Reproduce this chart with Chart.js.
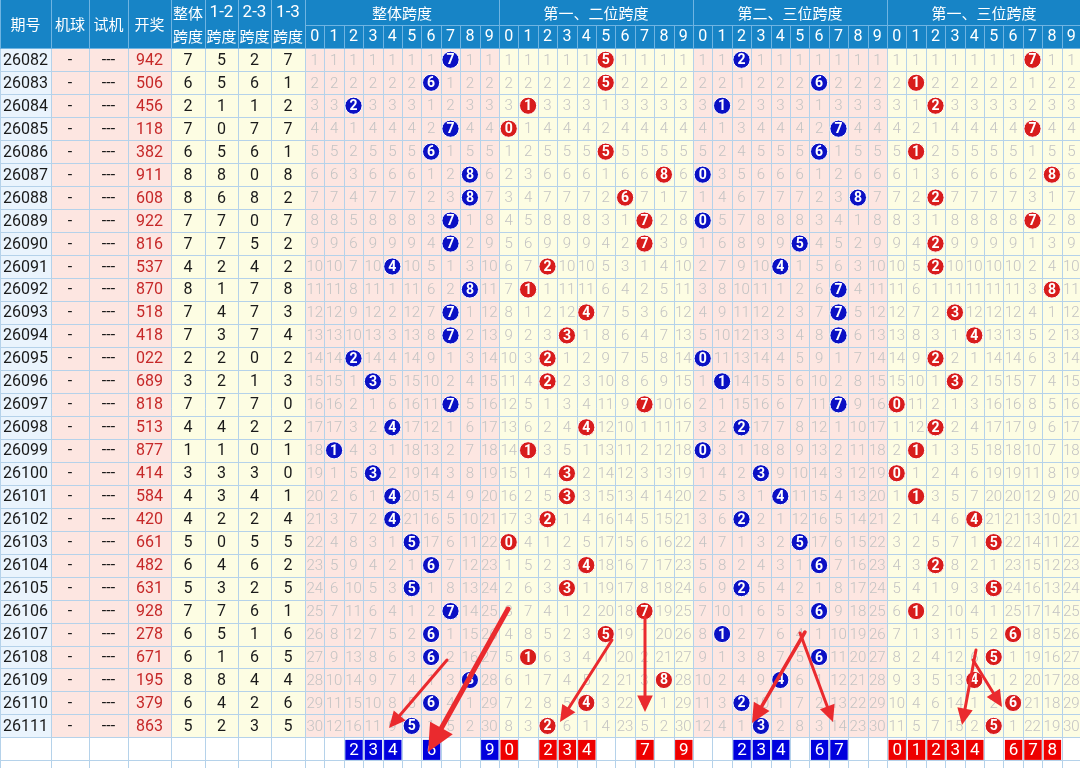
<!DOCTYPE html>
<html><head><meta charset="utf-8">
<script src="https://cdn.jsdelivr.net/npm/chart.js@4.4.1/dist/chart.umd.min.js"></script>
<style>html,body{margin:0;padding:0;background:#fff}canvas{display:block}</style>
</head><body>
<canvas id="c" width="1080" height="768"></canvas>
<script>
// ---------- DATA ----------
const periods = ['26082','26083','26084','26085','26086','26087','26088','26089','26090','26091','26092','26093','26094','26095','26096','26097','26098','26099','26100','26101','26102','26103','26104','26105','26106','26107','26108','26109','26110','26111'];
const machineBall = periods.map(() => '-');
const testDraw = periods.map(() => '---');
const draws = ['942','506','456','118','382','911','608','922','816','537','870','518','418','022','689','818','513','877','414','584','420','661','482','631','928','278','671','195','379','863'];
const spanAll = [7,6,2,7,6,8,8,7,7,4,8,7,7,2,3,7,4,1,3,4,4,5,6,5,7,6,6,8,6,5];
const span12  = [5,5,1,0,5,8,6,7,7,2,1,4,3,2,2,7,4,1,3,3,2,0,4,3,7,5,1,8,4,2];
const span23  = [2,6,1,7,6,0,8,0,5,4,7,7,7,0,1,7,2,0,3,4,2,5,6,2,6,1,6,4,2,3];
const span13  = [7,1,2,7,1,8,2,7,2,2,8,3,4,2,3,0,2,1,0,1,4,5,2,5,1,6,5,4,6,5];
const groupTitles = ['整体跨度','第一、二位跨度','第二、三位跨度','第一、三位跨度'];
const digitLabels = ['0','1','2','3','4','5','6','7','8','9'];
const picks1 = [2,3,4,6,9];
const picks2 = [0,2,3,4,7,9];
const picks3 = [2,3,4,6,7];
const picks4 = [0,1,2,3,4,6,7,8];
// annotation arrows in scale units [x1,y1,x2,y2,width]
const arrows = [
  [447,660,389,728,3],
  [508,609,428,752,5],
  [612,640,560,722,3],
  [645,617,645,712,3],
  [805,632,752,723,3.5],
  [800,633,833,722,3],
  [976,650,962,725,3],
  [973,660,1002,707,3]
];

// ---------- LAYOUT ----------
const leftEdges = [0,51,89,128,171,205,238,271,305];
const leftHeads = ['期号','机球','试机','开奖',['整体','跨度'],['1-2','跨度'],['2-3','跨度'],['1-3','跨度']];
const G0 = 305, GW = 194, CW = GW/10;
const H1 = 25, DT = 48.3, RH = 22.97;
const N = periods.length;
const BOT = DT + N*RH, BOTH = 23.5;
const groupHits = [spanAll, span12, span23, span13];
const groupPicks = [picks1, picks2, picks3, picks4];
const groupCircle = ['#0b10c4','#d81c1c','#0b10c4','#d81c1c'];
const groupBox = ['#0000dd','#ee0000','#0000dd','#ee0000'];
const groupBg = ['#fde6e1','#fdfde3','#fde6e1','#fdfde3'];
const colX = (g,c) => G0 + g*GW + (c+0.5)*CW;
const rowY = i => DT + (i+0.5)*RH;

const datasets = groupHits.map((arr,g) => ({
  label: groupTitles[g],
  data: arr.map((v,i) => ({x: colX(g,v), y: rowY(i), v})),
  pointRadius: 8.6, pointHoverRadius: 8.6,
  backgroundColor: groupCircle[g], borderColor: '#ffffff', borderWidth: 1,
  showLine: false, clip: false
}));

const NUMF = '"Roboto","Noto Sans",sans-serif';
const CJK = '"Noto Sans CJK SC","Noto Sans",sans-serif';

const tablePlugin = {
  id: 'table',
  beforeDatasetsDraw(chart) {
    const ctx = chart.ctx, xs = chart.scales.x, ys = chart.scales.y;
    const X = v => xs.getPixelForValue(v), Y = v => ys.getPixelForValue(v);
    ctx.save();
    ctx.fillStyle = '#fff'; ctx.fillRect(0,0,chart.width,chart.height);
    // column backgrounds
    const leftBg = ['#eaf4fd','#fde6e1','#fde6e1','#fde6e1','#fdfde3','#fdfde3','#fdfde3','#fdfde3'];
    for (let k=0;k<8;k++){ ctx.fillStyle=leftBg[k]; ctx.fillRect(X(leftEdges[k]),Y(DT),X(leftEdges[k+1])-X(leftEdges[k]),Y(BOT)-Y(DT)); }
    for (let g=0;g<4;g++){ ctx.fillStyle=groupBg[g]; ctx.fillRect(X(G0+g*GW),Y(DT),X(G0+(g+1)*GW)-X(G0+g*GW),Y(BOT)-Y(DT)); }
    // header
    ctx.fillStyle = '#1784c6'; ctx.fillRect(0,Y(0),chart.width,Y(DT)-Y(0));
    // grid lines data
    ctx.strokeStyle = '#b5d2ea'; ctx.lineWidth = 1;
    ctx.beginPath();
    for (let i=0;i<=N+1;i++){ const y=Math.round(Y(DT+i*RH))+0.5; ctx.moveTo(0,y); ctx.lineTo(chart.width,y); }
    const allX = leftEdges.slice();
    for (let g=0;g<4;g++) for (let c=1;c<=10;c++) allX.push(G0+g*GW+c*CW);
    allX.forEach(x=>{ const px=Math.round(X(x))+0.5; ctx.moveTo(px,Y(DT)); ctx.lineTo(px,Y(768)); });
    ctx.stroke();
    // header lines
    ctx.strokeStyle = '#6fb4e2'; ctx.beginPath();
    allX.forEach(x=>{ const px=Math.round(X(x))+0.5; ctx.moveTo(px,Y(0)); ctx.lineTo(px,Y(DT)); });
    ctx.stroke();
    // remove inner lines of group titles row
    ctx.fillStyle = '#1784c6';
    for (let g=0;g<4;g++){ ctx.fillRect(X(G0+g*GW)+1.5,Y(0),GW-2,Y(H1)-Y(0)); }
    ctx.strokeStyle = '#6fb4e2'; ctx.beginPath();
    ctx.moveTo(X(G0),Math.round(Y(H1))+0.5); ctx.lineTo(chart.width,Math.round(Y(H1))+0.5);
    ctx.moveTo(0,Math.round(Y(DT))+0.5); ctx.lineTo(chart.width,Math.round(Y(DT))+0.5);
    ctx.stroke();
    // header texts
    ctx.fillStyle='#fff'; ctx.textAlign='center'; ctx.textBaseline='middle';
    leftHeads.forEach((h,k)=>{
      const cx=(X(leftEdges[k])+X(leftEdges[k+1]))/2;
      if (Array.isArray(h)){
        ctx.font = (h[0].indexOf('-')>=0? '17px '+NUMF : '15px '+CJK);
        ctx.fillText(h[0],cx,Y(13)); ctx.font='15px '+CJK; ctx.fillText(h[1],cx,Y(36.5));
      } else { ctx.font='15px '+CJK; ctx.fillText(h,cx,Y(DT/2)); }
    });
    for (let g=0;g<4;g++){
      ctx.font='15px '+CJK; ctx.fillText(groupTitles[g],X(G0+g*GW+GW/2),Y(13));
      ctx.font='16px '+NUMF;
      digitLabels.forEach((d,c)=>ctx.fillText(d,X(colX(g,c)),Y(37)));
    }
    // left data
    for (let i=0;i<N;i++){
      const cy=Y(rowY(i))+1;
      const cell=(k,t,col)=>{ ctx.fillStyle=col; ctx.fillText(t,(X(leftEdges[k])+X(leftEdges[k+1]))/2,cy); };
      ctx.font='16px '+NUMF;
      cell(0,periods[i],'#1a1a1a'); cell(1,machineBall[i],'#1a1a1a'); cell(2,testDraw[i],'#1a1a1a');
      cell(3,draws[i],'#c62828');
      cell(4,String(spanAll[i]),'#1a1a1a'); cell(5,String(span12[i]),'#1a1a1a');
      cell(6,String(span23[i]),'#1a1a1a'); cell(7,String(span13[i]),'#1a1a1a');
    }
    // omission numbers
    ctx.font='300 15px '+NUMF; ctx.fillStyle='#c3c3c3';
    for (let g=0;g<4;g++){
      const miss=new Array(10).fill(0);
      groupHits[g].forEach((v,i)=>{
        for (let c=0;c<10;c++){
          if (c===v){ miss[c]=0; continue; }
          miss[c]++;
          ctx.fillText(String(miss[c]),X(colX(g,c)),Y(rowY(i))+1);
        }
      });
    }
    ctx.restore();
  },
  afterDatasetsDraw(chart){
    const ctx=chart.ctx, xs=chart.scales.x, ys=chart.scales.y;
    const X=v=>xs.getPixelForValue(v), Y=v=>ys.getPixelForValue(v);
    ctx.save();
    ctx.textAlign='center'; ctx.textBaseline='middle'; ctx.fillStyle='#fff'; ctx.font='bold 14px '+NUMF;
    chart.data.datasets.forEach(ds=>ds.data.forEach(p=>ctx.fillText(String(p.v),X(p.x),Y(p.y)+1)));
    // bottom pick boxes
    ctx.font='17px '+NUMF;
    groupPicks.forEach((arr,g)=>arr.forEach(c=>{
      const x0=X(G0+g*GW+c*CW)+1.5, x1=X(G0+g*GW+(c+1)*CW)-0.5;
      const y0=Y(BOT)+2.5, y1=Y(BOT+BOTH)-1;
      ctx.fillStyle=groupBox[g]; ctx.fillRect(x0,y0,x1-x0,y1-y0);
      ctx.fillStyle='#fff'; ctx.fillText(digitLabels[c],(x0+x1)/2,(y0+y1)/2+1);
    }));
    // arrows
    ctx.strokeStyle='#ea2a2e'; ctx.fillStyle='#ea2a2e'; ctx.lineCap='round';
    arrows.forEach(([x1,y1,x2,y2,w])=>{
      const px1=X(x1),py1=Y(y1),px2=X(x2),py2=Y(y2);
      const a=Math.atan2(py2-py1,px2-px1);
      const hl=w*5.5, hw=w*2.6;
      const bx=px2-hl*Math.cos(a), by=py2-hl*Math.sin(a);
      ctx.lineWidth=w; ctx.beginPath(); ctx.moveTo(px1,py1); ctx.lineTo(bx,by); ctx.stroke();
      ctx.beginPath(); ctx.moveTo(px2,py2);
      ctx.lineTo(bx+hw*Math.sin(a),by-hw*Math.cos(a));
      ctx.lineTo(bx-hw*Math.sin(a),by+hw*Math.cos(a));
      ctx.closePath(); ctx.fill();
    });
    ctx.restore();
  }
};

new Chart(document.getElementById('c'), {
  type: 'scatter',
  data: { datasets },
  options: {
    responsive: false, animation: false, events: [],
    layout: { padding: 0, autoPadding: false },
    scales: {
      x: { type:'linear', min:0, max:1080, display:false, offset:false, grace:0 },
      y: { type:'linear', min:0, max:768, reverse:true, display:false, offset:false, grace:0 }
    },
    plugins: { legend:{display:false}, tooltip:{enabled:false} }
  },
  plugins: [tablePlugin]
});
</script>
</body></html>
